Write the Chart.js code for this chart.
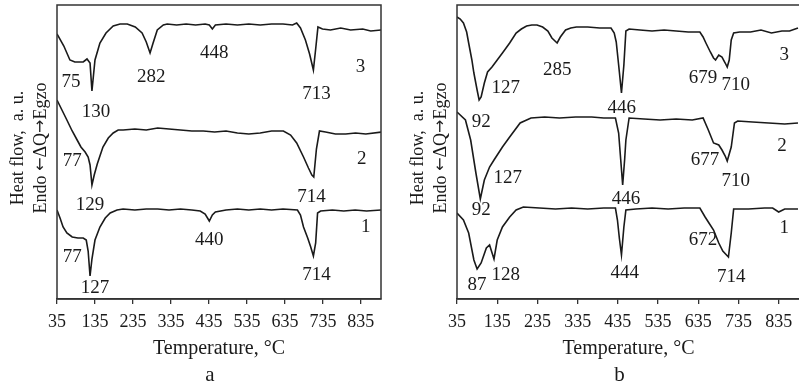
<!DOCTYPE html>
<html>
<head>
<meta charset="utf-8">
<script src="https://cdn.jsdelivr.net/npm/chart.js@4"></script>
<style>
  body { margin: 0; width: 799px; height: 384px; overflow: hidden; background: #fff; position: relative; }
  canvas { position: absolute; top: 0; }
</style>
</head>
<body>
<canvas id="chartA" width="400" height="384" style="left:0"></canvas>
<canvas id="chartB" width="410" height="384" style="left:400px"></canvas>
<script>
// temperature ticks
var tempTicks = [35, 135, 235, 335, 435, 535, 635, 735, 835];

// panel a curves (temperature, heat flow a.u.)
var aT3 = [35,53,69,82,104,114,122,127,135,148,164,183,201,220,241,259,270,280,288,299,315,325,350,375,400,425,436,444,452,480,510,540,570,600,630,655,666,676,689,700,710,716,722,734,755,782,808,840,861,890];
var aH3 = [265,253,239,237,237,240,236,208,239,256,266,273,275,275,272,266,257,246,256,269,274,275,274,275,274,275,274,270,274,275,274,275,274,275,275,274,276,271,259,245,229,250,272,270,269,271,269,270,268,269];
var aT2 = [35,48,61,75,88,98,109,117,122,127,133,141,148,156,170,183,196,209,240,270,300,330,360,390,420,450,480,510,540,570,600,631,650,666,684,697,706,711,718,726,742,768,795,821,848,890];
var aH2 = [199,189,179,168,159,152,147,142,134,114,124,135,143,152,161,166,169,169,170,169,171,170,169,168,168,167,168,166,165,166,168,168,164,156,142,131,124,122,150,168,167,165,165,166,165,167];
var aT1 = [35,43,51,61,75,90,104,112,117,122,127,135,148,162,175,193,209,240,270,300,330,360,390,412,425,436,444,452,480,510,540,570,600,630,668,676,684,695,703,710,716,721,729,760,790,820,850,890];
var aH1 = [89,81,72,66,62,61,61,59,48,23,40,59,72,81,86,89,90,89,90,90,89,90,89,88,85,78,84,87,89,90,89,90,89,90,89,84,72,61,52,43,56,86,88,89,88,89,88,89];

// panel b curves
var bT3 = [35,43,51,59,64,72,77,85,90,95,103,111,122,135,148,166,182,195,208,221,234,248,261,271,284,292,305,318,332,360,390,418,426,431,437,444,450,455,463,490,520,550,580,610,639,647,654,665,673,678,686,694,702,707,712,717,723,738,765,791,817,843,862,883];
var bH3 = [282,280,276,267,256,239,226,209,199,202,216,227,232,239,246,256,266,270,273,274,274,272,268,261,256,262,269,271,272,272,271,271,266,257,234,206,234,268,270,269,268,269,268,267,267,262,256,247,241,239,244,242,236,232,239,259,266,267,267,269,266,268,268,271];
var bT2 = [35,56,69,82,93,103,116,127,148,166,192,219,253,290,330,370,400,429,437,442,447,452,455,463,500,540,580,620,647,660,673,686,694,702,707,717,725,733,770,810,850,883];
var bH2 = [187,179,159,126,100,119,132,139,152,162,176,181,182,181,182,182,181,181,166,140,114,140,159,181,180,179,180,179,181,169,156,154,149,143,138,152,176,178,177,176,175,176];
var bT1 = [35,51,64,77,85,95,108,116,127,135,148,166,182,200,240,280,320,360,400,429,434,439,444,450,455,480,520,560,600,639,652,660,673,686,696,710,717,723,760,800,820,835,850,883];
var bH1 = [86,79,66,39,30,36,51,54,40,59,72,82,89,92,91,90,91,90,91,91,79,60,44,72,89,90,91,90,91,91,82,77,69,56,48,42,66,90,90,91,91,87,90,90];

// peak labels
var aLabelText = ['75','130','282','448','713','3','77','129','714','2','77','127','440','714','1'];
var aLabelT = [72,138,283,449,718,834,75,122,705,837,75,135,436,718,848];
var aLabelH = [217,187,222,246,205,232,138,94,102,140,42,11,59,24,72];
var bLabelText = ['127','285','446','679','710','3','92','127','446','677','710','2','92','87','128','444','672','714','1'];
var bLabelT = [156,284,445,647,728,849,95,161,455,652,728,843,95,85,156,452,647,717,849];
var bLabelH = [211,229,191,221,214,244,177,121,100,139,118,153,89,14,24,26,59,22,71];

var FONT = 'Liberation Serif';
var INK = '#1a1a1a';

function pts(t, h) {
  return t.map(function(v, i) { return {x: v, y: h[i]} });
}

// draws text pieces with their own fonts, centred on x=0
function drawPieces(ctx, parts, y) {
  var widths = parts.map(function(p) { ctx.font = p[1]; return ctx.measureText(p[0]).width });
  var total = widths.reduce(function(s, w) { return s + w }, 0);
  var x = -total / 2;
  ctx.textAlign = 'left';
  parts.forEach(function(p, i) {
    ctx.font = p[1];
    ctx.fillText(p[0], x, y);
    x += widths[i];
  });
  ctx.textAlign = 'center';
}

// box, peak labels, y title, panel letter
var extras = {
  id: 'extras',
  afterDraw: function(chart, args, opts) {
    var ctx = chart.ctx, a = chart.chartArea;
    var sx = chart.scales.x, sy = chart.scales.y;
    ctx.save();
    ctx.strokeStyle = '#333';
    ctx.lineWidth = 1.5;
    ctx.strokeRect(a.left, a.top, a.right - a.left, a.bottom - a.top);

    ctx.fillStyle = INK;
    ctx.font = '19px "' + FONT + '"';
    ctx.textAlign = 'center';
    ctx.textBaseline = 'middle';
    opts.text.forEach(function(s, i) {
      ctx.fillText(s, sx.getPixelForValue(opts.t[i]), sy.getPixelForValue(opts.h[i]));
    });

    // panel letter
    ctx.font = '21px "' + FONT + '"';
    ctx.fillText(opts.letter, (a.left + a.right) / 2 - 9, chart.height - 9);

    // y axis title, two lines
    var serif = '18px "' + FONT + '"';
    var arrow = '16px "DejaVu Sans"';
    ctx.font = serif;
    ctx.translate(a.left - 39, 148);
    ctx.rotate(-Math.PI / 2);
    ctx.fillText('Heat flow,  a. u.', 0, 0);
    drawPieces(ctx, [['Endo ', serif], ['\u2190', arrow], ['\u0394Q', serif], ['\u2192', arrow], ['Egzo', serif]], 23);
    ctx.restore();
  }
};

function makeChart(id, curves, labels, letter, padRight) {
  new Chart(id, {
    type: 'line',
    data: {
      datasets: curves.map(function(c) {
        return {data: pts(c[0], c[1]), borderColor: INK, borderWidth: 1.6, pointRadius: 0, tension: 0, fill: false};
      })
    },
    options: {
      responsive: false,
      animation: false,
      layout: {padding: {left: 57, right: padRight, top: 5, bottom: 0}},
      plugins: {
        legend: {display: false},
        tooltip: {enabled: false},
        extras: {text: labels[0], t: labels[1], h: labels[2], letter: letter}
      },
      scales: {
        x: {
          type: 'linear',
          min: 35,
          max: 888,
          afterBuildTicks: function(s) { s.ticks = tempTicks.map(function(v) { return {value: v} }) },
          afterFit: function(s) { s.height = 85 },
          grid: {display: true, drawOnChartArea: false, drawTicks: true, tickLength: 5, color: '#333', lineWidth: 1.3},
          border: {display: true, color: '#333', width: 1.5},
          ticks: {color: INK, font: {family: FONT, size: 18}, padding: 7, autoSkip: false, maxRotation: 0},
          title: {display: true, text: 'Temperature, \u00b0C', color: INK, font: {family: FONT, size: 20}, padding: {top: 0, bottom: 23}}
        },
        y: {display: false, min: 0, max: 294}
      }
    },
    plugins: [extras]
  });
}

makeChart('chartA', [[aT3, aH3], [aT2, aH2], [aT1, aH1]], [aLabelText, aLabelT, aLabelH], 'a', 19);
makeChart('chartB', [[bT3, bH3], [bT2, bH2], [bT1, bH1]], [bLabelText, bLabelT, bLabelH], 'b', 10);
</script>
</body>
</html>
